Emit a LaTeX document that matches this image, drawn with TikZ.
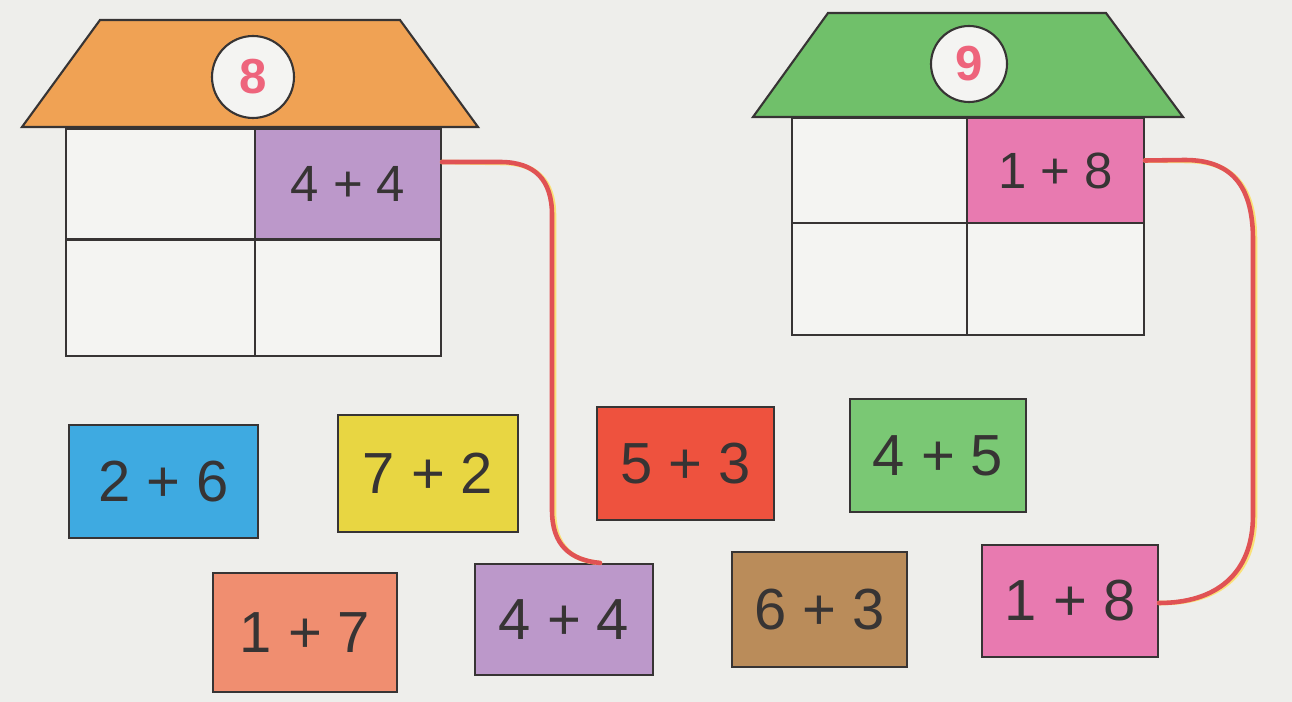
\documentclass[tikz,border=0pt]{standalone}
\usepackage{fontspec}
\setmainfont{Liberation Sans}
\definecolor{bg}{RGB}{238,238,235}
\definecolor{ink}{RGB}{55,52,52}
\definecolor{roofA}{RGB}{240,162,84}
\definecolor{roofB}{RGB}{112,192,106}
\definecolor{numred}{RGB}{238,100,124}
\definecolor{cPurple}{RGB}{188,152,202}
\definecolor{cPink}{RGB}{232,122,176}
\definecolor{cBlue}{RGB}{62,170,225}
\definecolor{cYellow}{RGB}{232,214,66}
\definecolor{cRed}{RGB}{238,82,62}
\definecolor{cGreen}{RGB}{122,200,116}
\definecolor{cSalmon}{RGB}{240,142,112}
\definecolor{cBrown}{RGB}{186,140,90}
\definecolor{wire}{RGB}{224,82,84}
\definecolor{wireglow}{RGB}{250,225,120}
\definecolor{cellw}{RGB}{244,244,242}
\begin{document}
\begin{tikzpicture}[x=0.02cm,y=-0.02cm,
  outline/.style={draw=ink, line width=1.2pt},
  cell/.style={outline, fill=cellw, inner sep=0pt, font=\fontsize{29}{33}\selectfont, text=ink},
  card/.style={outline, inner sep=0pt, font=\fontsize{33}{38}\selectfont, text=ink},
  roof/.style={outline},
  badge/.style={circle, outline, fill=cellw, inner sep=0pt, font=\bfseries\fontsize{28}{32}\selectfont, text=numred},
  wireline/.style={draw=wire, line width=2.6pt, line cap=round},
  glowline/.style={draw=wireglow, line width=2.6pt, line cap=round}
]
\fill[bg] (0,0) rectangle (1292,702);
\useasboundingbox (0,0) rectangle (1292,702);

% ---- House 8 ----
\filldraw[roof, fill=roofA] (100,20) -- (400,20) -- (478,127) -- (22,127) -- cycle;
\node[badge, minimum size=1.64cm] (n8) at (253,77) {8};
\node[cell, minimum width=3.78cm, minimum height=2.22cm] (h1tl) at (160.5,184) {};
\node[cell, fill=cPurple, minimum width=3.72cm, minimum height=2.22cm] (h1tr) at (348,184) {4 + 4};
\node[cell, minimum width=3.78cm, minimum height=2.32cm] (h1bl) at (160.5,298) {};
\node[cell, minimum width=3.72cm, minimum height=2.32cm] (h1br) at (348,298) {};

% ---- House 9 ----
\filldraw[roof, fill=roofB] (828,13) -- (1106,13) -- (1183,117) -- (753,117) -- cycle;
\node[badge, minimum size=1.52cm] (n9) at (969,64) {9};
\node[cell, minimum width=3.5cm, minimum height=2.1cm] (h2tl) at (879.5,170.5) {};
\node[cell, fill=cPink, minimum width=3.54cm, minimum height=2.1cm] (h2tr) at (1055.5,170.5) {1 + 8};
\node[cell, minimum width=3.5cm, minimum height=2.24cm] (h2bl) at (879.5,279) {};
\node[cell, minimum width=3.54cm, minimum height=2.24cm] (h2br) at (1055.5,279) {};

% ---- Cards ----
\node[card, fill=cBlue,   minimum width=3.78cm, minimum height=2.26cm] (b26) at (163.5,481.5) {2 + 6};
\node[card, fill=cYellow, minimum width=3.6cm,  minimum height=2.34cm] (b72) at (428,473.5) {7 + 2};
\node[card, fill=cRed,    minimum width=3.54cm, minimum height=2.26cm] (b53) at (685.5,463.5) {5 + 3};
\node[card, fill=cGreen,  minimum width=3.52cm, minimum height=2.26cm] (b45) at (938,455.5) {4 + 5};
\node[card, fill=cSalmon, minimum width=3.68cm, minimum height=2.38cm] (b17) at (305,632.5) {1 + 7};
\node[card, fill=cPurple, minimum width=3.56cm, minimum height=2.22cm] (b44) at (564,619.5) {4 + 4};
\node[card, fill=cBrown,  minimum width=3.5cm,  minimum height=2.3cm]  (b63) at (819.5,609.5) {6 + 3};
\node[card, fill=cPink,   minimum width=3.52cm, minimum height=2.24cm] (b18) at (1070,601) {1 + 8};

% ---- Connectors ----
\begin{scope}[xshift=0.04cm, yshift=-0.02cm]
\draw[glowline] ([yshift=0.44cm]h1tr.east) -- (500,162)
  .. controls (535,162) and (552,180) .. (552,215) -- (552,510)
  .. controls (552,545) and (570,560) .. ([xshift=0.72cm]b44.north);
\draw[glowline] ([yshift=0.2cm]h2tr.east) -- (1185,160)
  .. controls (1235,160) and (1253,190) .. (1253,240) -- (1253,515)
  .. controls (1253,575) and (1215,603) .. ([yshift=-0.04cm]b18.east);
\end{scope}
\draw[wireline] ([yshift=0.44cm]h1tr.east) -- (500,162)
  .. controls (535,162) and (552,180) .. (552,215) -- (552,510)
  .. controls (552,545) and (570,560) .. ([xshift=0.72cm]b44.north);
\draw[wireline] ([yshift=0.2cm]h2tr.east) -- (1185,160)
  .. controls (1235,160) and (1253,190) .. (1253,240) -- (1253,515)
  .. controls (1253,575) and (1215,603) .. ([yshift=-0.04cm]b18.east);
\end{tikzpicture}
\end{document}
